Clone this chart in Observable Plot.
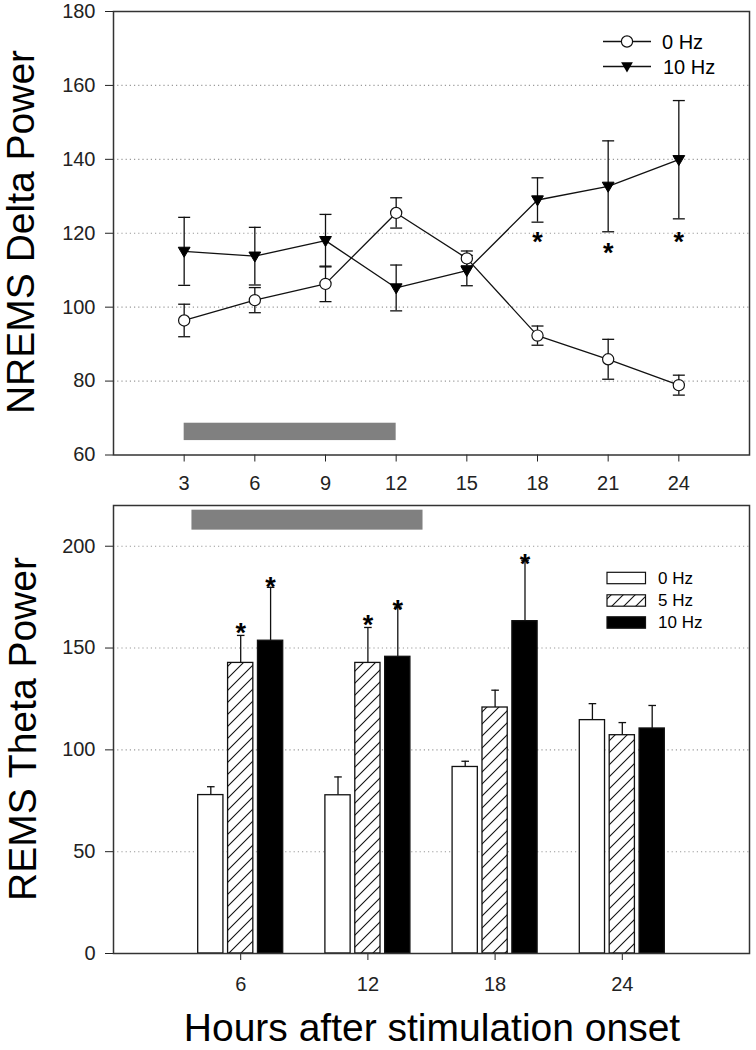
<!DOCTYPE html>
<html><head><meta charset="utf-8">
<script src="https://cdn.jsdelivr.net/npm/d3@7"></script>
<script src="https://cdn.jsdelivr.net/npm/@observablehq/plot@0.6"></script>
<style>
html,body{margin:0;padding:0;background:#fff;}
#wrap{position:relative;width:756px;height:1050px;font-family:"Liberation Sans",Arial,sans-serif;}
#wrap svg{position:absolute;left:0;}
</style></head><body><div id="wrap"></div>
<script>
// ---------- Top panel: NREMS Delta Power ----------
const hours = [3, 6, 9, 12, 15, 18, 21, 24];
const nrems0HzMean = [96.4, 101.9, 106.3, 125.5, 113.2, 92.3, 85.9, 78.9];
const nrems0HzErr  = [4.4, 3.4, 4.8, 4.1, 2.0, 2.6, 5.4, 2.7];
const nrems10HzMean = [115.1, 113.8, 118.0, 105.2, 109.9, 129.0, 132.7, 139.9];
const nrems10HzErr  = [9.2, 7.8, 7.1, 6.2, 4.1, 6.0, 12.3, 16.0];
const nremsStarHours = [18, 21, 24];
const nremsStarY = [119.5, 116.4, 119.4];
const nremsStimWindow = [3, 12];
const nremsStimBarY = [63.9, 68.6];
const nremsYTicks = [60, 80, 100, 120, 140, 160, 180];
const nremsGrid = [80, 100, 120, 140, 160];
const nremsXTicks = [3, 6, 9, 12, 15, 18, 21, 24];

// ---------- Bottom panel: REMS Theta Power ----------
const remsHours = [6, 12, 18, 24];
const remsSeries = ["0 Hz", "5 Hz", "10 Hz"];
const rems0HzMean = [77.8, 77.7, 91.6, 114.6];
const rems0HzErr  = [4.1, 9.0, 2.8, 8.1];
const rems5HzMean = [142.7, 142.7, 120.8, 107.2];
const rems5HzErr  = [13.5, 17.4, 8.5, 6.2];
const rems10HzMean = [153.6, 145.7, 163.2, 110.5];
const rems10HzErr  = [26.2, 24.4, 29.9, 11.3];
const remsStarHour = [6, 6, 12, 12, 18];
const remsStarSeries = ["5 Hz", "10 Hz", "5 Hz", "10 Hz", "10 Hz"];
const remsStarY = [160.6, 183.2, 164.7, 171.7, 194.7];
const remsStimWindow = [3.7, 14.6];
const remsStimBarY = [207.9, 217.7];
const remsYTicks = [0, 50, 100, 150, 200];
const remsGrid = [50, 100, 150, 200];
const remsXTicks = [6, 12, 18, 24];

// ---------- styling ----------
const FONT = '"Liberation Sans", Arial, sans-serif';
const slotOffset = {"0 Hz": -1.41, "5 Hz": 0, "10 Hz": 1.41}; // group layout (hours)
const barHalf = 0.595;
const capSymbol = {draw(ctx, size) { const r = Math.sqrt(size / Math.PI); ctx.moveTo(-r, 0); ctx.lineTo(r, 0); }};
const triDown = {draw(ctx, size) { const r = Math.sqrt(size / Math.PI); ctx.moveTo(-r, -0.7 * r); ctx.lineTo(r, -0.7 * r); ctx.lineTo(0, r); ctx.closePath(); }};

const wrap = document.getElementById("wrap");

// tables
const nremsTable = [];
hours.forEach((h, i) => {
  nremsTable.push({hour: h, series: "0 Hz", mean: nrems0HzMean[i], err: nrems0HzErr[i]});
  nremsTable.push({hour: h, series: "10 Hz", mean: nrems10HzMean[i], err: nrems10HzErr[i]});
});
const nremsStars = nremsStarHours.map((h, i) => ({hour: h, y: nremsStarY[i]}));

const topPlot = Plot.plot({
  width: 756, height: 498,
  marginLeft: 113, marginRight: 7, marginTop: 11, marginBottom: 43.5,
  style: {fontFamily: FONT, fontSize: "20px", color: "#222", background: "transparent", overflow: "visible"},
  x: {domain: [0, 27], ticks: nremsXTicks, tickSize: 7, tickPadding: 14, label: null},
  y: {domain: [60, 180], ticks: nremsYTicks, tickSize: 8, tickPadding: 10, label: null},
  marks: [
    Plot.ruleY(nremsGrid, {stroke: "#9a9a9a", strokeWidth: 1.1, strokeDasharray: "1.2,3"}),
    Plot.rect([0], {x1: () => nremsStimWindow[0], x2: () => nremsStimWindow[1], y1: () => nremsStimBarY[0], y2: () => nremsStimBarY[1], fill: "#808080"}),
    Plot.ruleX(nremsTable, {x: "hour", y1: d => d.mean - d.err, y2: d => d.mean + d.err, stroke: "#111", strokeWidth: 1.3}),
    Plot.dot(nremsTable, {x: "hour", y: d => d.mean - d.err, symbol: capSymbol, r: 6, fill: "none", stroke: "#111", strokeWidth: 1.3}),
    Plot.dot(nremsTable, {x: "hour", y: d => d.mean + d.err, symbol: capSymbol, r: 6, fill: "none", stroke: "#111", strokeWidth: 1.3}),
    Plot.line(nremsTable, {x: "hour", y: "mean", z: "series", stroke: "#111", strokeWidth: 1.3}),
    Plot.dot(nremsTable.filter(d => d.series === "0 Hz"), {x: "hour", y: "mean", r: 5.6, fill: "white", stroke: "#111", strokeWidth: 1.2}),
    Plot.dot(nremsTable.filter(d => d.series === "10 Hz"), {x: "hour", y: "mean", symbol: triDown, r: 5.9, fill: "#000", stroke: "#000", strokeWidth: 1}),
    Plot.text(nremsStars, {x: "hour", y: "y", text: () => "*", fontSize: 27, fontWeight: "bold", dy: 7, fill: "#000"}),
    Plot.frame({stroke: "#333", strokeWidth: 1.5})
  ]
});
topPlot.style.top = "0px";
wrap.appendChild(topPlot);
{
  const s = d3.select(topPlot);
  s.append("text").attr("transform", "translate(34,232) rotate(-90)")
    .attr("text-anchor", "middle").attr("font-size", 39).attr("fill", "#000").text("NREMS Delta Power");
  const lg = s.append("g").attr("fill", "#000").attr("text-anchor", "start");
  lg.append("line").attr("x1", 603).attr("x2", 651).attr("y1", 41.5).attr("y2", 41.5).attr("stroke", "#111").attr("stroke-width", 1.3);
  lg.append("circle").attr("cx", 627).attr("cy", 41.5).attr("r", 5.6).attr("fill", "white").attr("stroke", "#111").attr("stroke-width", 1.2);
  lg.append("text").attr("x", 662).attr("y", 41.5).attr("dy", "0.35em").attr("font-size", 20).text("0 Hz");
  lg.append("line").attr("x1", 603).attr("x2", 651).attr("y1", 66.5).attr("y2", 66.5).attr("stroke", "#111").attr("stroke-width", 1.3);
  const p = d3.path(); triDown.draw(p, Math.PI * 5.9 * 5.9);
  lg.append("path").attr("d", p.toString()).attr("transform", "translate(627,66.5)").attr("fill", "#000");
  lg.append("text").attr("x", 663).attr("y", 66.5).attr("dy", "0.35em").attr("font-size", 20).text("10 Hz");
}

// bottom
const remsMeans = {"0 Hz": rems0HzMean, "5 Hz": rems5HzMean, "10 Hz": rems10HzMean};
const remsErrs = {"0 Hz": rems0HzErr, "5 Hz": rems5HzErr, "10 Hz": rems10HzErr};
const remsTable = [];
remsSeries.forEach(s => remsHours.forEach((h, i) => {
  remsTable.push({hour: h, series: s, xc: h + slotOffset[s], mean: remsMeans[s][i], err: remsErrs[s][i]});
}));
const remsStars = remsStarHour.map((h, i) => ({xc: h + slotOffset[remsStarSeries[i]], y: remsStarY[i]}));
const fills = {"0 Hz": "white", "5 Hz": "url(#hatch5)", "10 Hz": "black"};

const bottomPlot = Plot.plot({
  width: 756, height: 552,
  marginLeft: 113, marginRight: 7, marginTop: 7, marginBottom: 97,
  style: {fontFamily: FONT, fontSize: "20px", color: "#222", background: "transparent", overflow: "visible"},
  x: {domain: [0, 30], ticks: remsXTicks, tickSize: 7, tickPadding: 16, label: null},
  y: {domain: [0, 220], ticks: remsYTicks, tickSize: 8, tickPadding: 10, label: null},
  marks: [
    Plot.ruleY(remsGrid, {stroke: "#9a9a9a", strokeWidth: 1.1, strokeDasharray: "1.2,3"}),
    Plot.rect([0], {x1: () => remsStimWindow[0], x2: () => remsStimWindow[1], y1: () => remsStimBarY[0], y2: () => remsStimBarY[1], fill: "#808080"}),
    Plot.ruleX(remsTable, {x: "xc", y1: "mean", y2: d => d.mean + d.err, stroke: "#111", strokeWidth: 1.3}),
    Plot.dot(remsTable, {x: "xc", y: d => d.mean + d.err, symbol: capSymbol, r: 3.8, fill: "none", stroke: "#111", strokeWidth: 1.3}),
    ...remsSeries.map(s => Plot.rect(remsTable.filter(d => d.series === s), {
      x1: d => d.xc - barHalf, x2: d => d.xc + barHalf, y1: 0, y2: "mean",
      fill: fills[s], stroke: "#111", strokeWidth: 1.3
    })),
    Plot.text(remsStars, {x: "xc", y: "y", text: () => "*", fontSize: 27, fontWeight: "bold", dy: 7, fill: "#000"}),
    Plot.frame({stroke: "#333", strokeWidth: 1.5})
  ]
});
bottomPlot.style.top = "498px";
wrap.appendChild(bottomPlot);
{
  const s = d3.select(bottomPlot);
  const defs = s.insert("defs", ":first-child");
  const pat = defs.append("pattern").attr("id", "hatch5").attr("patternUnits", "userSpaceOnUse")
    .attr("width", 12).attr("height", 12);
  pat.append("rect").attr("width", 12).attr("height", 12).attr("fill", "white");
  pat.append("path").attr("d", "M-1,13 L13,-1 M-7,7 L7,-7 M5,19 L19,5").attr("stroke", "#111").attr("stroke-width", 1.1);
  s.append("text").attr("transform", "translate(36,231) rotate(-90)")
    .attr("text-anchor", "middle").attr("font-size", 39).attr("fill", "#000").text("REMS Theta Power");
  s.append("text").attr("x", 432).attr("y", 543)
    .attr("text-anchor", "middle").attr("font-size", 39).attr("fill", "#000").text("Hours after stimulation onset");
  const lg = s.append("g").attr("text-anchor", "start");
  const rows = [{s: "0 Hz", y: 578}, {s: "5 Hz", y: 600.5}, {s: "10 Hz", y: 622.5}];
  rows.forEach(r => {
    lg.append("rect").attr("x", 607).attr("y", r.y - 498 - 5.7).attr("width", 38.5).attr("height", 11.4)
      .attr("fill", fills[r.s]).attr("stroke", "#111").attr("stroke-width", 1.2);
    lg.append("text").attr("x", 658).attr("y", r.y - 498).attr("dy", "0.35em").attr("font-size", 17).attr("fill", "#000").text(r.s);
  });
}
</script>
</body></html>
